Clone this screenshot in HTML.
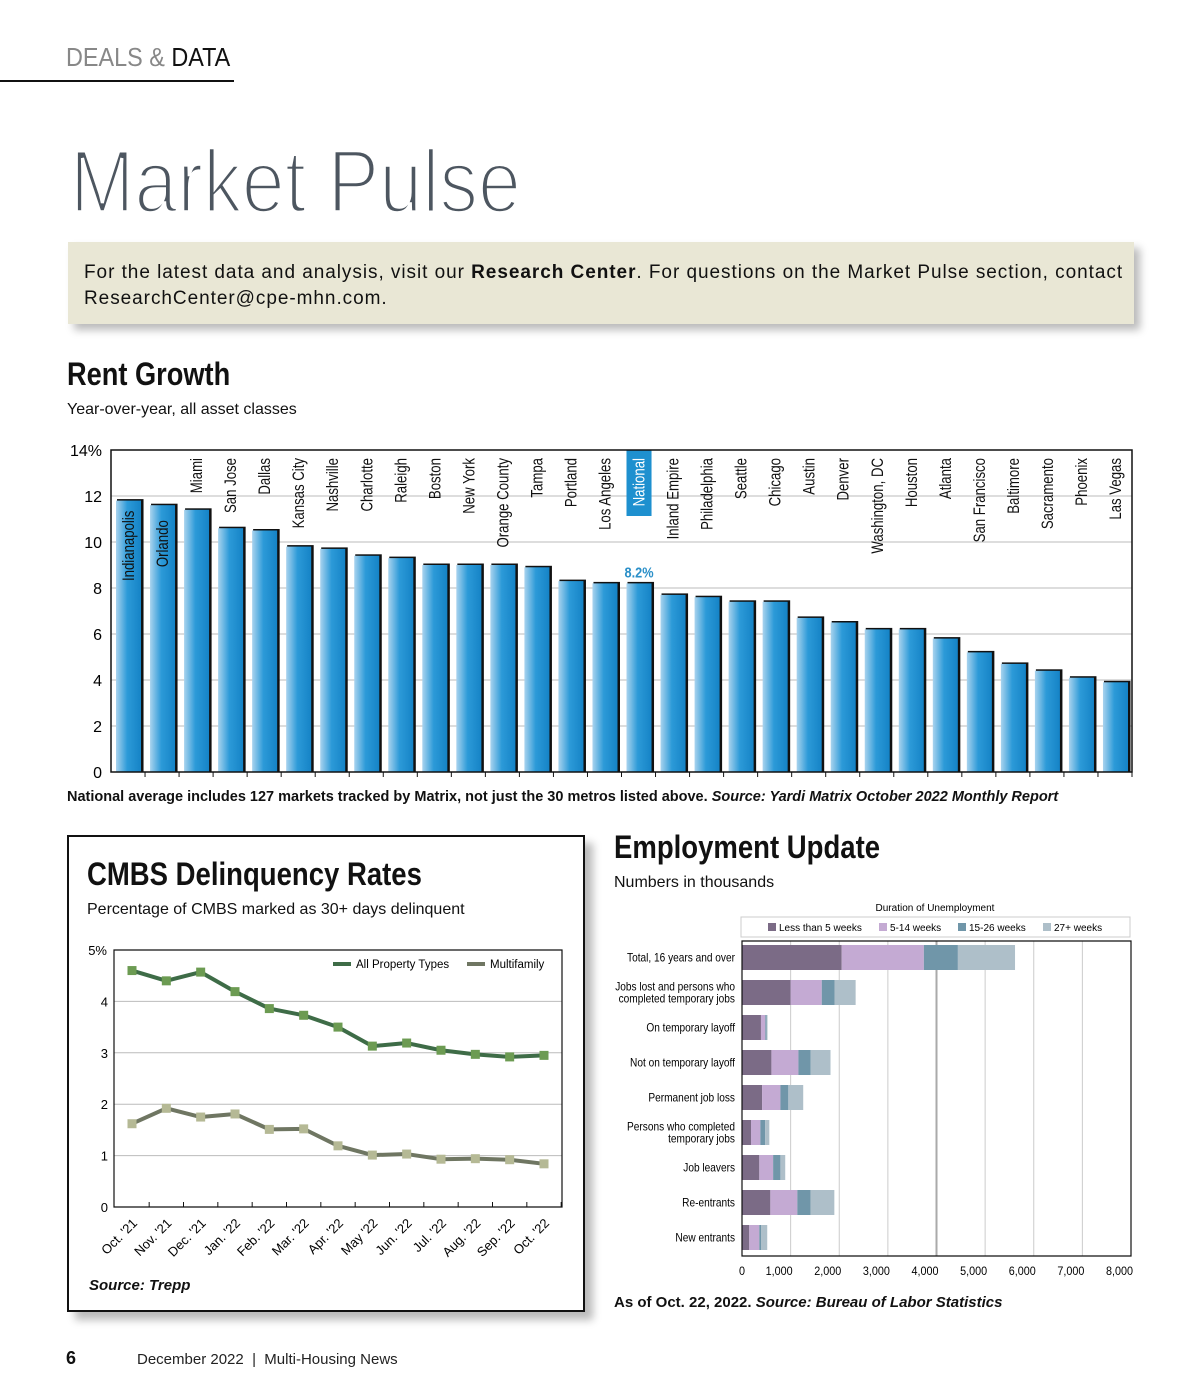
<!DOCTYPE html>
<html><head><meta charset="utf-8">
<style>
*{margin:0;padding:0;box-sizing:border-box}
body{width:1200px;height:1400px;background:#fff;position:relative;overflow:hidden;font-family:"Liberation Sans",sans-serif;color:#111}
.abs{position:absolute}
.narrow{font-weight:bold;transform-origin:0 0;white-space:nowrap}
</style></head><body>
<div class="abs" style="left:66px;top:42px;font-size:26px;transform:scaleX(0.9);transform-origin:0 0;white-space:nowrap"><span style="color:#888">DEALS &amp; </span><span style="color:#111">DATA</span></div>
<div class="abs" style="left:0;top:80px;width:234px;height:2px;background:#111"></div>
<svg class="abs" style="left:0;top:120px" width="600" height="110">
<text x="70" y="92" font-size="89" font-family="Liberation Sans" fill="#4d5660" stroke="#fff" stroke-width="3.6" paint-order="fill" textLength="451" lengthAdjust="spacingAndGlyphs">Market Pulse</text></svg>
<div class="abs" style="left:68px;top:242px;width:1066px;height:82px;background:#e9e7d5;box-shadow:6px 6px 8px #bbb;padding:18px 16px;font-size:19px;line-height:26px;color:#111;letter-spacing:0.95px;white-space:nowrap">For the latest data and analysis, visit our <b>Research Center</b>. For questions on the Market Pulse section, contact<br>ResearchCenter@cpe-mhn.com.</div>
<div class="abs narrow" style="left:67px;top:356px;font-size:32px;transform:scaleX(0.85)">Rent Growth</div>
<div class="abs" style="left:67px;top:401px;font-size:16px">Year-over-year, all asset classes</div>
<svg id="rent" class="abs" style="left:0;top:430px" width="1200" height="360">
<defs><linearGradient id="bg" x1="0" x2="1"><stop offset="0" stop-color="#a9d3ee"/><stop offset="0.45" stop-color="#2c9ad8"/><stop offset="1" stop-color="#1583c6"/></linearGradient></defs>
</svg>
<div class="abs" style="left:67px;top:789px;font-size:14.5px;font-weight:bold;white-space:nowrap">National average includes 127 markets tracked by Matrix, not just the 30 metros listed above. <i>Source: Yardi Matrix October 2022 Monthly Report</i></div>

<div class="abs" style="left:67px;top:835px;width:518px;height:477px;border:2px solid #111;box-shadow:8px 8px 8px #bbb;background:#fff"></div>
<div class="abs narrow" style="left:87px;top:856px;font-size:32px;transform:scaleX(0.86)">CMBS Delinquency Rates</div>
<div class="abs" style="left:87px;top:901px;font-size:16px">Percentage of CMBS marked as 30+ days delinquent</div>
<svg id="cmbs" class="abs" style="left:0;top:0" width="600" height="1300"></svg>
<div class="abs" style="left:89px;top:1277px;font-size:15px;font-weight:bold;font-style:italic">Source: Trepp</div>

<div class="abs narrow" style="left:614px;top:829px;font-size:32px;transform:scaleX(0.86)">Employment Update</div>
<div class="abs" style="left:614px;top:874px;font-size:16px">Numbers in thousands</div>
<svg id="emp" class="abs" style="left:0;top:0" width="1200" height="1300"></svg>
<div class="abs" style="left:614px;top:1294px;font-size:15px;font-weight:bold">As of Oct. 22, 2022. <i>Source: Bureau of Labor Statistics</i></div>

<div class="abs" style="left:66px;top:1348px;font-size:18px;font-weight:bold">6</div>
<div class="abs" style="left:137px;top:1351px;font-size:15px;color:#222">December 2022&nbsp; | &nbsp;Multi-Housing News</div>

<script>
const NS='http://www.w3.org/2000/svg';
function mk(p,t,a,txt){const e=document.createElementNS(NS,t);for(const k in a)e.setAttribute(k,a[k]);if(txt!==undefined)e.textContent=txt;p.appendChild(e);return e;}

// ---------- Rent growth ----------
const rentCities=["Indianapolis","Orlando","Miami","San Jose","Dallas","Kansas City","Nashville","Charlotte","Raleigh","Boston","New York","Orange County","Tampa","Portland","Los Angeles","National","Inland Empire","Philadelphia","Seattle","Chicago","Austin","Denver","Washington, DC","Houston","Atlanta","San Francisco","Baltimore","Sacramento","Phoenix","Las Vegas"];
const rentValues=[11.8,11.6,11.4,10.6,10.5,9.8,9.7,9.4,9.3,9.0,9.0,9.0,8.9,8.3,8.2,8.2,7.7,7.6,7.4,7.4,6.7,6.5,6.2,6.2,5.8,5.2,4.7,4.4,4.1,3.9];
const rentTicks=[0,2,4,6,8,10,12,14];
(function(){
 const s=document.getElementById('rent');const oy=430;
 const L=111,R=1132,T=450-oy,B=772-oy;
 const y=v=>B-(B-T)*v/14; const slot=(R-L)/rentCities.length;
 rentTicks.forEach(t=>{
  if(t>0&&t<14){const g=mk(s,'line',{x1:L,x2:R,y1:y(t),y2:y(t),stroke:'#bbb','stroke-width':1});}
  const lb=mk(s,'text',{x:102,y:y(t)+6,'text-anchor':'end','font-size':16,'font-family':'Liberation Sans'},t===14?'14%':String(t));
  
 });
 rentCities.forEach((c,i)=>{
  const v=rentValues[i];const x=L+slot*i+5;const w=slot-9;
  mk(s,'rect',{x:x+1,y:y(v)-1.5,width:w+1.5,height:B-y(v)+1.5,fill:'#111'});
  const b=mk(s,'rect',{x:x,y:y(v),width:w,height:B-y(v),fill:'url(#bg)'});
  
  const cx=x+w/2;
  mk(s,'line',{x1:L+slot*(i+1),x2:L+slot*(i+1),y1:B,y2:B+5,stroke:'#111'});
  let ty=458-oy;
  if(i<2) ty=y(v)+(i===0?10:15);
  if(c==='National'){const nb=mk(s,'rect',{x:L+slot*i+5,y:450-oy,width:w,height:66,fill:'#1e90cf'});
   const vl=mk(s,'text',{x:cx,y:y(v)-6,'text-anchor':'middle','font-size':15,'font-weight':'bold',fill:'#2a8fc8',transform:`translate(${cx*0.15},0) scale(0.85,1)`},v.toFixed(1)+'%');}
  const t=mk(s,'text',{x:0,y:0,transform:`translate(${cx+5.5},${ty}) rotate(-90) scale(0.8,1)`,'text-anchor':'end','font-size':16.5,fill:c==='National'?'#fff':'#111'},c);
  
 });
 const ax=mk(s,'path',{d:`M${L},${T} H${R} V${B} H${L} Z`,fill:'none',stroke:'#111','stroke-width':1.5});
 
})();

// ---------- CMBS ----------
const cmbsMonths=["Oct. '21","Nov. '21","Dec. '21","Jan. '22","Feb. '22","Mar. '22","Apr. '22","May '22","Jun. '22","Jul. '22","Aug. '22","Sep. '22","Oct. '22"];
const cmbsAll=[4.6,4.4,4.57,4.19,3.86,3.73,3.5,3.13,3.19,3.05,2.97,2.92,2.95];
const cmbsMF=[1.62,1.92,1.75,1.81,1.51,1.52,1.19,1.01,1.03,0.93,0.94,0.92,0.84];
const cmbsTicks=[0,1,2,3,4,5];
(function(){
 const s=document.getElementById('cmbs');
 const L=114,R=562,T=950,B=1207;
 const y=v=>B-(B-T)*v/5; const x=i=>132+i*(544-132)/(cmbsMonths.length-1);
 cmbsTicks.forEach(t=>{
  if(t>0&&t<5){const g=mk(s,'line',{x1:L,x2:R,y1:y(t),y2:y(t),stroke:'#bbb'});}
  const lb=mk(s,'text',{x:t===5?107:108,y:y(t)+5,'text-anchor':'end','font-size':13},t===5?'5%':String(t));
  
 });
 mk(s,'path',{d:`M${L},${T} H${R} V${B} H${L} Z`,fill:'none',stroke:'#111','stroke-width':1.2});
 cmbsMonths.forEach((m,i)=>{
  const sp=(544-132)/12;
  mk(s,'line',{x1:x(i)+sp/2,x2:x(i)+sp/2,y1:B,y2:B-5,stroke:'#111'});
  const t=mk(s,'text',{transform:`translate(${x(i)+6},${B+17}) rotate(-45)`,'text-anchor':'end','font-size':13},m);
  
 });
 function series(vals,lc,mc,name){
  const p=mk(s,'polyline',{points:vals.map((v,i)=>x(i)+','+y(v)).join(' '),fill:'none',stroke:lc,'stroke-width':4,'stroke-linejoin':'round'});
  
  vals.forEach((v,i)=>{const r=mk(s,'rect',{x:x(i)-4.5,y:y(v)-4.5,width:9,height:9,fill:mc});});
 }
 series(cmbsMF,'#6f7662','#b5b995','multifamily');
 series(cmbsAll,'#3e6c47','#6c9b52','all-property-types');
 mk(s,'line',{x1:333,x2:351,y1:964,y2:964,stroke:'#3e6c47','stroke-width':4});
 const l1=mk(s,'text',{x:356,y:968,'font-size':11.5},'All Property Types');
 mk(s,'line',{x1:467,x2:485,y1:964,y2:964,stroke:'#6f7662','stroke-width':4});
 const l2=mk(s,'text',{x:490,y:968,'font-size':11.5},'Multifamily');
})();

// ---------- Employment ----------
const empCats=[["Total, 16 years and over"],["Jobs lost and persons who","completed temporary jobs"],["On temporary layoff"],["Not on temporary layoff"],["Permanent job loss"],["Persons who completed","temporary jobs"],["Job leavers"],["Re-entrants"],["New entrants"]];
const empLt5=[2050,1000,390,605,413,185,356,583,149];
const emp5to14=[1690,640,90,555,377,192,284,555,207];
const emp15to26=[700,263,25,250,163,100,150,270,35];
const emp27plus=[1175,434,20,410,306,85,99,491,128];
const empSeriesNames=["Less than 5 weeks","5-14 weeks","15-26 weeks","27+ weeks"];
const empTicks=[0,1000,2000,3000,4000,5000,6000,7000,8000];
(function(){
 const s=document.getElementById('emp');
 const L=742,R=1131,T=941,B=1256;
 const colors=['#7b6b86','#c4aad3','#7096a9','#aebfc9'];
 const xs=v=>L+(R-L)*v/8000;
 empTicks.forEach(t=>{
  if(t>0&&t<8000){const g=mk(s,'line',{x1:xs(t),x2:xs(t),y1:T,y2:B,stroke:t===4000?'#aaa':'#ccc','stroke-width':t===4000?2:1});}
  const lb=mk(s,'text',{x:0,y:0,transform:`translate(${t===0?xs(t)+3:xs(t)+2},1275) scale(0.9,1)`,'text-anchor':'end','font-size':12},t.toLocaleString('en-US'));
  
 });
 const ttl=mk(s,'text',{x:935,y:911,'text-anchor':'middle','font-size':10},'Duration of Unemployment');
 mk(s,'rect',{x:741,y:917,width:389,height:20,fill:'#fff',stroke:'#ccc'});
 const lx=[768,879,958,1043];
 empSeriesNames.forEach((n,k)=>{mk(s,'rect',{x:lx[k],y:923,width:8,height:8,fill:colors[k]});const t=mk(s,'text',{x:lx[k]+11,y:931,'font-size':10},n);});
 const series=[empLt5,emp5to14,emp15to26,emp27plus];
 const rowH=(B-T)/empCats.length;
 empCats.forEach((c,i)=>{
  const cy=T+rowH*(i+0.5)-1;let acc=0;
  series.forEach((arr,k)=>{const r=mk(s,'rect',{x:xs(acc),y:cy-12.5,width:xs(acc+arr[i])-xs(acc),height:25,fill:colors[k]});acc+=arr[i];});
  c.forEach((ln,j)=>{const t=mk(s,'text',{x:0,y:0,transform:`translate(735,${cy+4+(c.length===2?(j===0?-6:6):0)}) scale(0.88,1)`,'text-anchor':'end','font-size':11.5},ln);});
 });
 mk(s,'path',{d:`M${L},${T} H${R} V${B} H${L} Z`,fill:'none',stroke:'#111','stroke-width':1.2});
})();
</script>
</body></html>
